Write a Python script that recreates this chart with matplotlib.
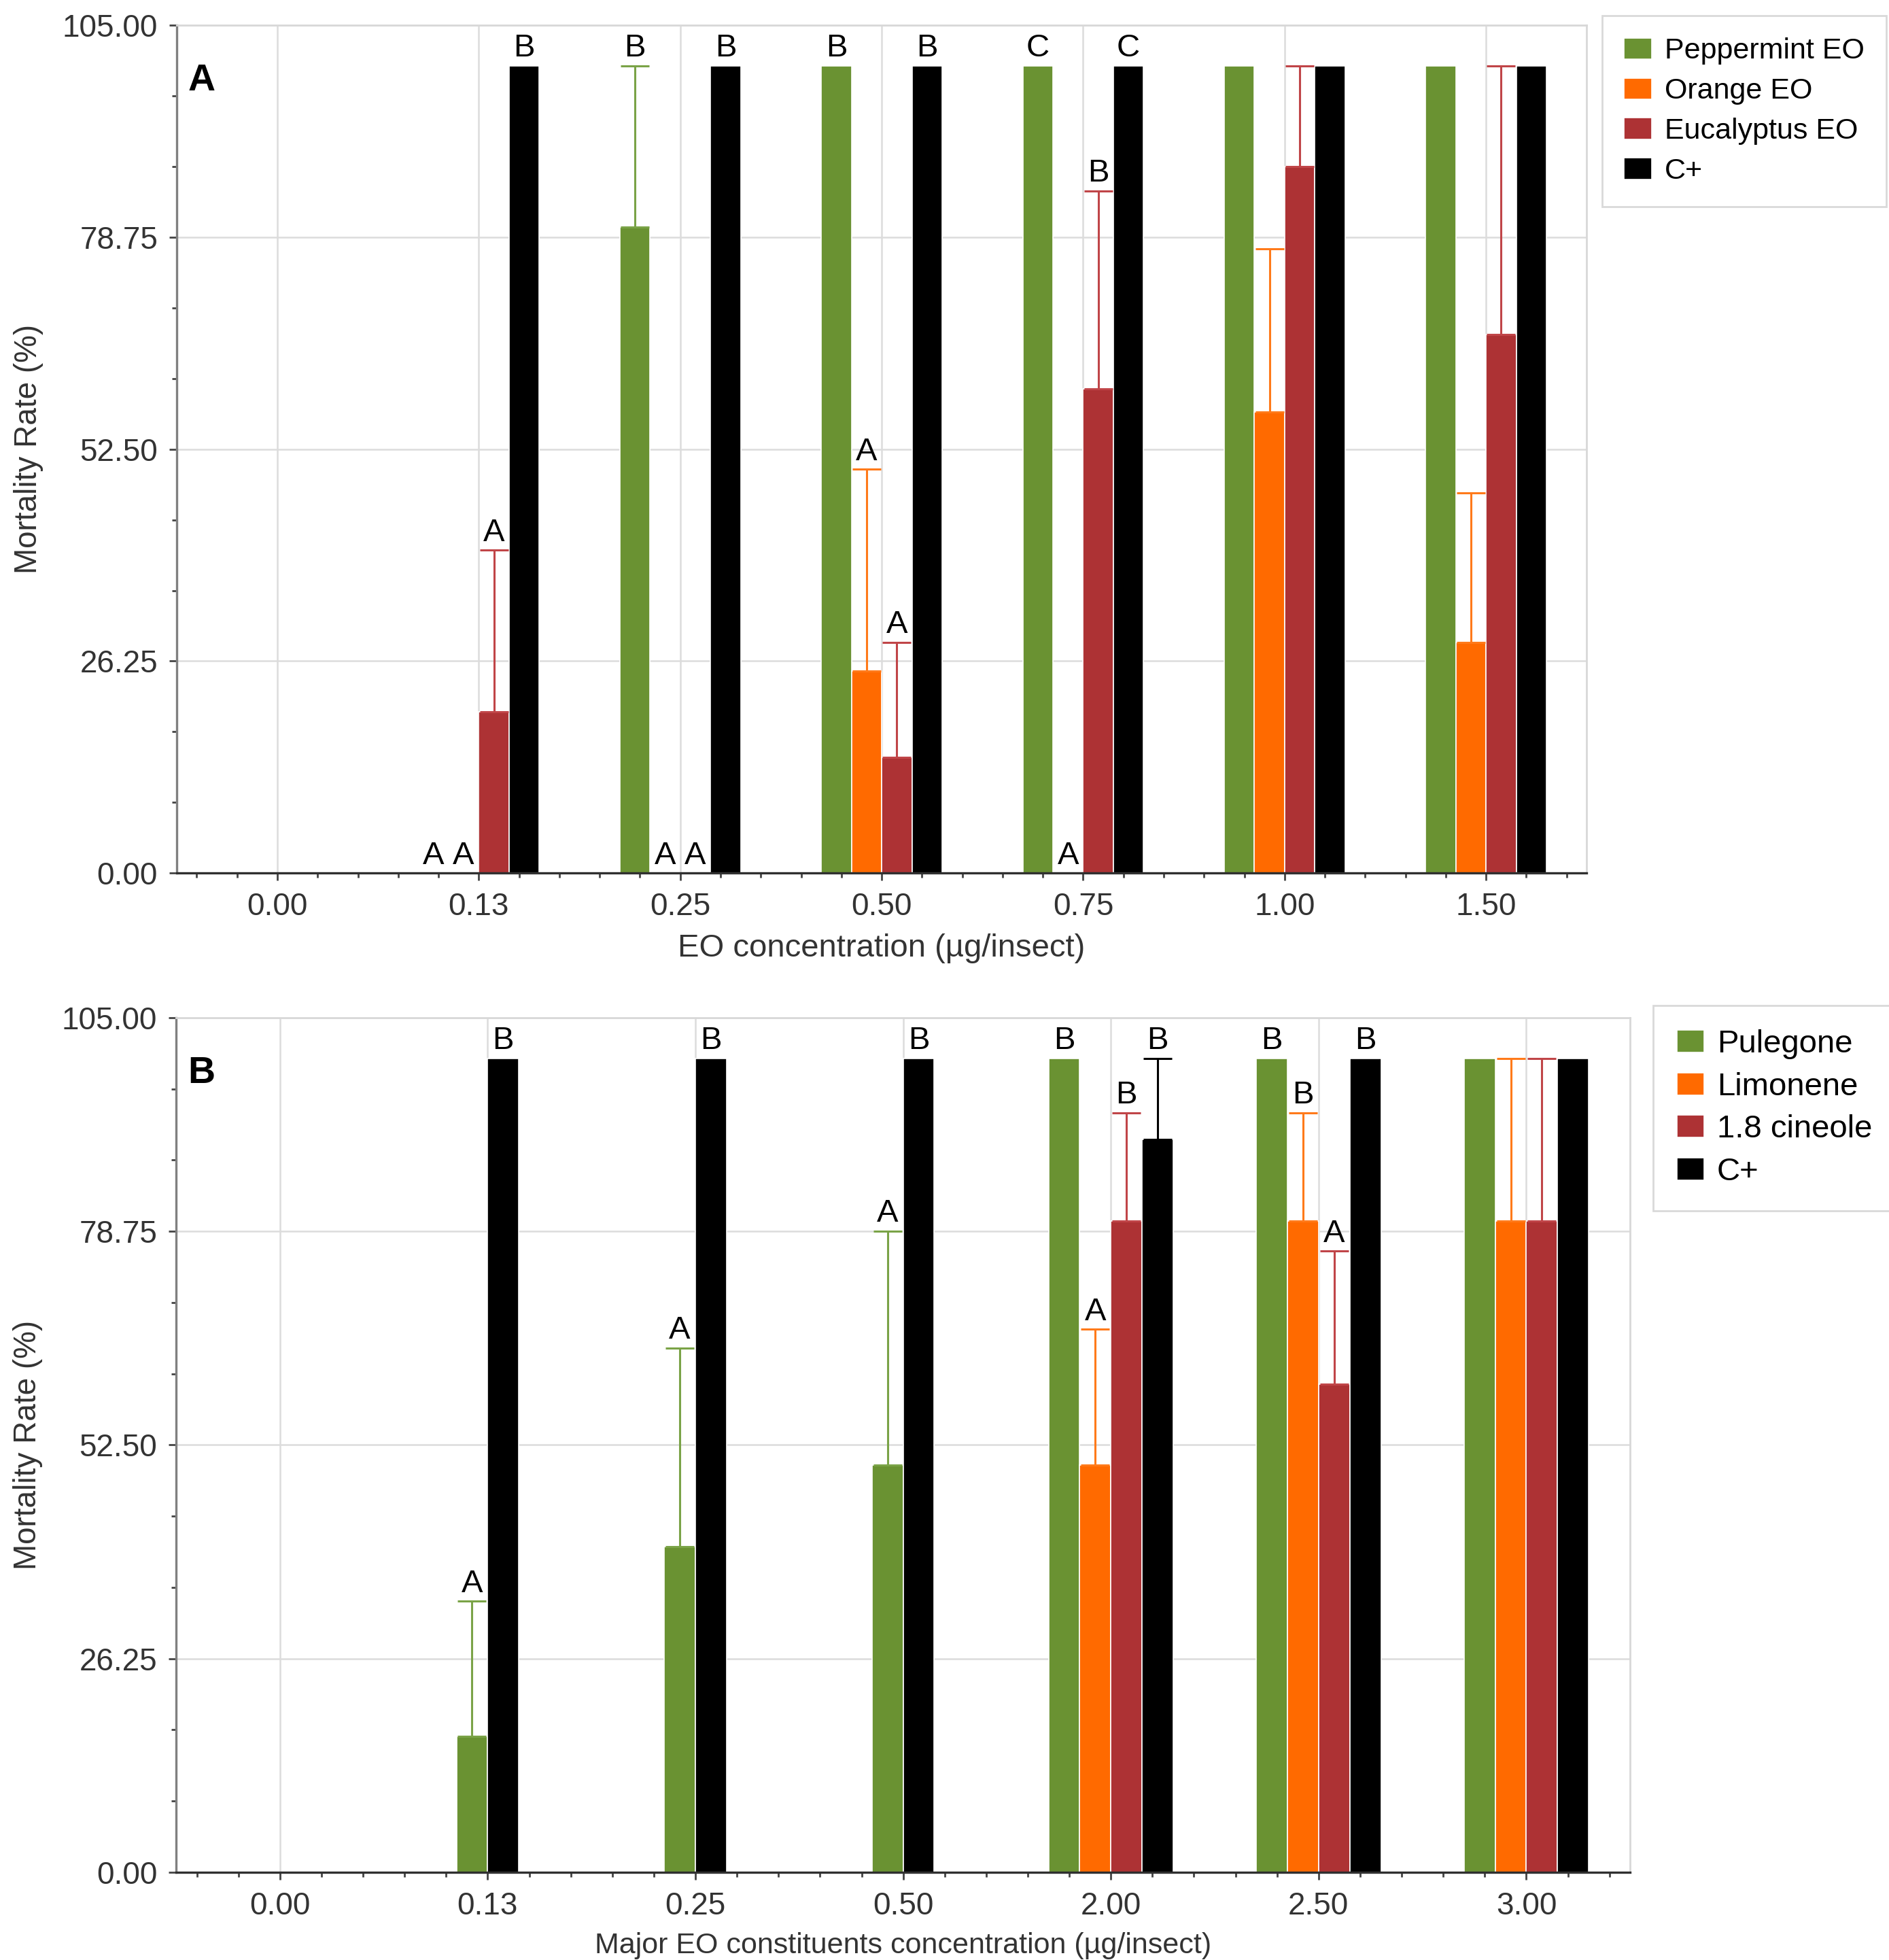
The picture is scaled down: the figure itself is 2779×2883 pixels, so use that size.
import numpy as np
import matplotlib
matplotlib.use("Agg")
import matplotlib.pyplot as plt
from matplotlib.ticker import MultipleLocator, FixedLocator, FormatStrFormatter

plt.rcParams['font.family'] = ['Liberation Sans', 'DejaVu Sans']

# ---- panel A data (all four treatments tested at every dose) ----
doses_a = ['0.00', '0.13', '0.25', '0.50', '0.75', '1.00', '1.50']
names_a = ['Peppermint EO', 'Orange EO', 'Eucalyptus EO', 'C+']
peppermint = [0, 0, 80, 100, 100, 100, 100]
peppermint_err = [0, 0, 20, 0, 0, 0, 0]
orange = [0, 0, 0, 25, 0, 57.1, 28.6]
orange_err = [0, 0, 0, 25, 0, 20.2, 18.5]
eucalyptus = [0, 20, 0, 14.3, 60, 87.5, 66.7]
eucalyptus_err = [0, 20, 0, 14.3, 24.5, 12.5, 33.3]
cplus_a = [0, 100, 100, 100, 100, 100, 100]
cplus_a_err = [0, 0, 0, 0, 0, 0, 0]
letters_a = [
    ['', 'A', 'B', 'B', 'C', '', ''],
    ['', 'A', 'A', 'A', 'A', '', ''],
    ['', 'A', 'A', 'A', 'B', '', ''],
    ['', 'B', 'B', 'B', 'C', '', ''],
]

# ---- panel B data (None = not tested at that dose) ----
doses_b = ['0.00', '0.13', '0.25', '0.50', '2.00', '2.50', '3.00']
names_b = ['Pulegone', 'Limonene', '1.8 cineole', 'C+']
pulegone = [None, 16.7, 40, 50, 100, 100, 100]
pulegone_err = [0, 16.6, 24.4, 28.8, 0, 0, 0]
limonene = [None, None, None, None, 50, 80, 80]
limonene_err = [0, 0, 0, 0, 16.7, 13.3, 20]
cineole = [None, None, None, None, 80, 60, 80]
cineole_err = [0, 0, 0, 0, 13.3, 16.3, 20]
cplus_b = [None, 100, 100, 100, 90, 100, 100]
cplus_b_err = [0, 0, 0, 0, 10, 0, 0]
letters_b = [
    ['', 'A', 'A', 'A', 'B', 'B', ''],
    ['', '', '', '', 'A', 'B', ''],
    ['', '', '', '', 'B', 'A', ''],
    ['', 'B', 'B', 'B', 'B', 'B', ''],
]

colors = ['#6a9232', '#ff6a00', '#ad3234', '#000000']
err_colors = ['#7aa347', '#ff7a1a', '#c04548', '#000000']
yticks = [0, 26.25, 52.5, 78.75, 105]


def draw_panel(ax, doses, names, values, errs, letters, xlabel, xlabel_size):
    n = len(doses)
    w = 0.15
    vals = np.array([[np.nan if v is None else v for v in s] for s in values], dtype=float)
    # bars of each dose are centred on the tick, only tested series take a slot
    pos = np.full(vals.shape, np.nan)
    for j in range(n):
        present = [i for i in range(len(values)) if not np.isnan(vals[i, j])]
        for k, i in enumerate(present):
            pos[i, j] = j + (k - (len(present) - 1) / 2) * w

    for i in range(len(values)):
        m = ~np.isnan(vals[i])
        p = pos[i][m]
        v = vals[i][m]
        e = np.array(errs[i], dtype=float)[m]
        ax.bar(p, v, w, color=colors[i], edgecolor='white', linewidth=0.6,
               label=names[i], zorder=2)
        me = e > 0
        if me.any():
            ax.errorbar(p[me], v[me], yerr=[np.zeros(me.sum()), e[me]], fmt='none',
                        ecolor=err_colors[i], elinewidth=1.1, capsize=7.5,
                        capthick=1.1, zorder=3)
        lab = [l for l, ok in zip(letters[i], m) if ok]
        for pj, vj, ej, lj in zip(p, v, e, lab):
            if lj:
                ax.text(pj, vj + ej + 0.3, lj, ha='center', va='bottom',
                        fontsize=17, color='black', zorder=4)

    ax.set_xlim(-0.5, n - 0.5)
    ax.set_ylim(0, 105)
    ax.set_xticks(np.arange(n))
    ax.set_xticklabels(doses, fontsize=16.5, color='#333333')
    ax.xaxis.set_minor_locator(MultipleLocator(0.2))
    ax.yaxis.set_major_locator(FixedLocator(yticks))
    ax.yaxis.set_minor_locator(MultipleLocator(8.75))
    ax.yaxis.set_major_formatter(FormatStrFormatter('%.2f'))
    ax.tick_params(axis='y', labelsize=16.5, labelcolor='#333333')
    ax.tick_params(which='major', length=4, width=1, color='#444444', pad=6)
    ax.tick_params(which='minor', length=2.5, width=1, color='#444444')
    ax.grid(True, which='major', color='#dcdcdc', linewidth=0.9, zorder=0)
    ax.set_axisbelow(True)
    for s in ['top', 'right']:
        ax.spines[s].set_color('#d8d8d8')
        ax.spines[s].set_linewidth(1)
    ax.spines['left'].set_color('#808080')
    ax.spines['left'].set_linewidth(1.2)
    ax.spines['bottom'].set_color('#303030')
    ax.spines['bottom'].set_linewidth(1.2)
    ax.set_xlabel(xlabel, fontsize=xlabel_size, color='#333333', labelpad=6)
    ax.set_ylabel('Mortality Rate (%)', fontsize=16.5, color='#333333', labelpad=10)


fig = plt.figure(figsize=(13.895, 14.415), dpi=200)

ax1 = fig.add_axes([0.0935, 0.5546, 0.7465, 0.4324])
draw_panel(ax1, doses_a, names_a,
           [peppermint, orange, eucalyptus, cplus_a],
           [peppermint_err, orange_err, eucalyptus_err, cplus_a_err],
           letters_a, 'EO concentration (µg/insect)', 17)
ax1.text(0.008, 0.935, 'A', transform=ax1.transAxes, fontsize=20,
         fontweight='bold', ha='left', va='center')
fig.legend(*ax1.get_legend_handles_labels(), loc='upper left',
           bbox_to_anchor=(0.848, 0.992), borderaxespad=0, fontsize=15.5,
           frameon=True, fancybox=False, edgecolor='#d0d0d0', handlelength=0.95,
           handleheight=0.75, handletextpad=0.45, labelspacing=0.44,
           borderpad=0.75)

ax2 = fig.add_axes([0.0932, 0.0448, 0.7698, 0.436])
draw_panel(ax2, doses_b, names_b,
           [pulegone, limonene, cineole, cplus_b],
           [pulegone_err, limonene_err, cineole_err, cplus_b_err],
           letters_b, 'Major EO constituents concentration (µg/insect)', 15.5)
ax2.text(0.008, 0.935, 'B', transform=ax2.transAxes, fontsize=20,
         fontweight='bold', ha='left', va='center')
fig.legend(*ax2.get_legend_handles_labels(), loc='upper left',
           bbox_to_anchor=(0.875, 0.487), borderaxespad=0, fontsize=17,
           frameon=True, fancybox=False, edgecolor='#d0d0d0', handlelength=0.85,
           handleheight=0.7, handletextpad=0.4, labelspacing=0.39,
           borderpad=0.75)

fig.savefig('out.png', dpi=200)
